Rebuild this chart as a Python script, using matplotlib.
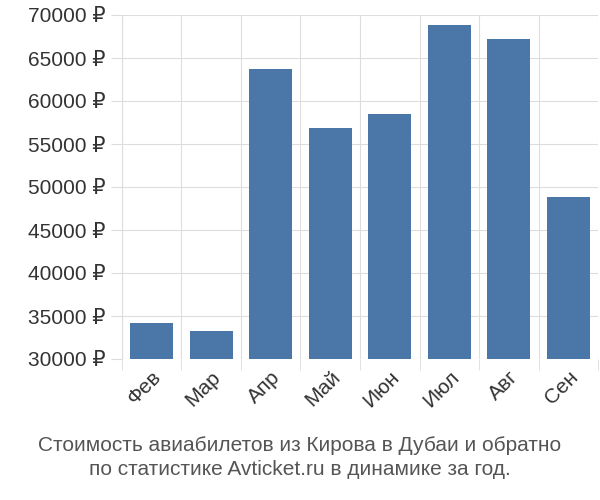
import matplotlib
matplotlib.use("Agg")
import matplotlib.pyplot as plt

months = ["Фев", "Мар", "Апр", "Май", "Июн", "Июл", "Авг", "Сен"]
prices = [34200, 33300, 63700, 56900, 58500, 68800, 67200, 48800]
yticks = list(range(30000, 70001, 5000))

plt.rcParams['font.family'] = ['Liberation Sans', 'DejaVu Sans']
fig = plt.figure(figsize=(6, 5), dpi=100)
ax = fig.add_axes([0.203, 0.282, 0.794, 0.688])
x = range(len(months))
ax.bar(x, [p - 30000 for p in prices], bottom=30000, width=0.72, color="#4a76a8", zorder=3)
ax.set_xlim(-0.5, len(months) - 0.5)
ax.set_ylim(30000, 70000)
ax.set_yticks(yticks)
ax.set_yticklabels([f"{v} ₽" for v in yticks], fontsize=15, color="#333333")
ax.set_xticks(list(x))
ax.set_xticklabels(months, rotation=45, ha="right", rotation_mode="anchor", fontsize=15, color="#333333")
ax.set_xticks([i - 0.5 for i in range(len(months) + 1)], minor=True)
ax.grid(True, which="minor", axis="x", color="#dddddd", zorder=0)
ax.grid(True, which="major", axis="y", color="#dddddd", zorder=0)
ax.tick_params(axis="x", which="major", length=0, pad=6)
ax.tick_params(axis="x", which="minor", length=8, color="#dddddd")
ax.tick_params(axis="y", length=8, color="#dddddd")
for s in ["top", "right", "bottom"]:
    ax.spines[s].set_visible(False)
ax.spines["left"].set_color("#dddddd")
fig.text(0.5, 0.085, "Стоимость авиабилетов из Кирова в Дубаи и обратно\nпо статистике Avticket.ru в динамике за год.",
         ha="center", va="center", fontsize=15, color="#555555", linespacing=1.3)
fig.savefig("out.png")
